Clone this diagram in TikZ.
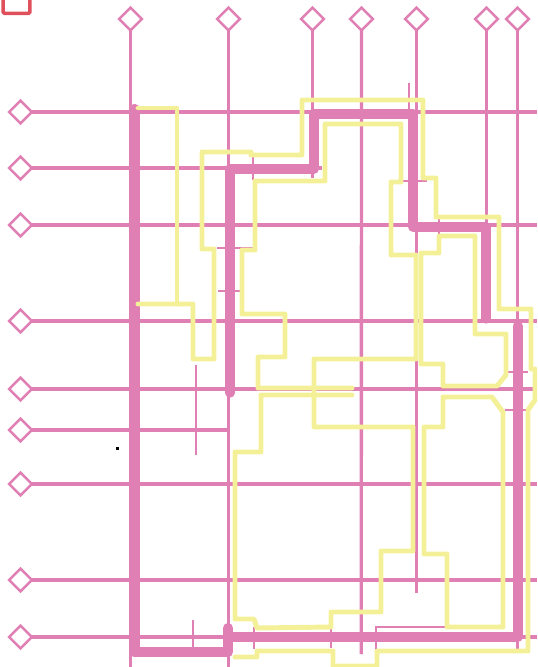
\documentclass[tikz,border=0pt]{standalone}
\usepackage{xcolor}
\usepackage{tikz}
\usetikzlibrary{shapes.geometric, positioning}
\definecolor{netpink}{RGB}{224, 127, 179}
\definecolor{netyellow}{RGB}{243, 240, 152}
\definecolor{boxred}{RGB}{224, 80, 92}
\tikzstyle{pin} = [diamond, aspect=1, minimum size=17pt, inner sep=0pt, outer sep=0pt, draw=netpink, fill=white, line width=1.8pt]
\tikzstyle{wire} = [line width=2.5pt, color=netpink]
\tikzstyle{stub} = [line width=2.1pt, color=netpink]
\tikzstyle{trunk} = [line width=7.5pt, color=netpink, line cap=round, line join=round]
\tikzstyle{route} = [line width=3.7pt, color=netyellow, line cap=round, line join=round]

\begin{document}
\begin{tikzpicture}[x=0.75pt, y=-0.75pt, on grid]
    \clip (0,0) rectangle (537,667);

    % Nodes
    \node (top1) [pin] at (130.5,19) {};
    \node (top2) [pin, right=73.5pt of top1] {};
    \node (top3) [pin, right=63pt of top2] {};
    \node (top4) [pin, right=36.75pt of top3] {};
    \node (top5) [pin, right=41.25pt of top4] {};
    \node (top6) [pin, right=52.5pt of top5] {};
    \node (top7) [pin, right=23.25pt of top6] {};
    \node (left1) [pin] at (20.5,112) {};
    \node (left2) [pin, below=42pt of left1] {};
    \node (left3) [pin, below=42.75pt of left2] {};
    \node (left4) [pin, below=72pt of left3] {};
    \node (left5) [pin, below=51pt of left4] {};
    \node (left6) [pin, below=30.75pt of left5] {};
    \node (left7) [pin, below=40.5pt of left6] {};
    \node (left8) [pin, below=72pt of left7] {};
    \node (left9) [pin, below=42.75pt of left8] {};
    \node (corner) [draw=boxred, line width=2.6pt, rounded corners=1pt, minimum width=20pt, minimum height=14pt, inner sep=0pt] at (16.5,4) {};
    \node (speck) [fill=black, minimum size=2.2pt, inner sep=0pt] at (117.5,448.5) {};

    % Free ends
    \coordinate (edge) at (537,667);
    \coordinate (end3) at (312.5,178);
    \coordinate (end4) at (361.25,654);
    \coordinate (end5) at (416.5,593);
    \coordinate (end6) at (486.5,321);
    \coordinate (end7) at (517.5,649);
    \coordinate (endA) at (322,168);
    \coordinate (endB) at (228,430);

    % Wires
    \draw [wire] (top1) -- (top1 |- edge);
    \draw [wire] (top2) -- (top2 |- edge);
    \draw [wire] (top3) -- (end3);
    \draw [wire] (top4) -- (end4);
    \draw [wire] (top5) -- (end5);
    \draw [wire] (top6) -- (end6);
    \draw [wire] (top7) -- (end7);
    \draw [wire] (left1) -- (left1 -| edge);
    \draw [wire] (left2) -- (endA);
    \draw [wire] (left3) -- (left3 -| edge);
    \draw [wire] (left4) -- (left4 -| edge);
    \draw [wire] (left5) -- (left5 -| edge);
    \draw [wire] (left6) -- (endB);
    \draw [wire] (left7) -- (left7 -| edge);
    \draw [wire] (left8) -- (left8 -| edge);
    \draw [wire] (left9) -- (left9 -| edge);

    % Stubs
    \draw [stub] (409,83) -- (409,112);
    \draw [stub] (402,181) -- (427,181);
    \draw [stub] (253,156) -- (253,180);
    \draw [stub] (217,248) -- (253,248);
    \draw [stub] (218,291) -- (240,291);
    \draw [stub] (196,365) -- (196,455);
    \draw [stub] (193,620) -- (193,648);
    \draw [stub] (254,627) -- (254,649);
    \draw [stub] (331,628) -- (331,648);
    \draw [stub] (376,652) -- (376,627) -- (445,627);
    \draw [stub] (508,372) -- (528,372);
    \draw [stub] (505,410) -- (526,410);
    \draw [stub] (439,216) -- (439,235);

    % Trunks
    \draw [trunk] (134.5,109) -- (134.5,652) -- (228,652) -- (228,628);
    \draw [trunk] (228,637) -- (517.5,637) -- (517.5,326);
    \draw [trunk, line width=7pt] (230,393) -- (230,169) -- (314,169) -- (314,114) -- (413,114) -- (413,227) -- (486,227) -- (486,319);

    % Routes
    \draw [route] (138,108) -- (177,108) -- (177,304);
    \draw [route] (138,304) -- (193,304) -- (193,359) -- (214,359) -- (214,249) -- (202,249) -- (202,152) -- (251,152) -- (251,155) -- (302,155) -- (302,100) -- (423,100) -- (423,178) -- (436,178) -- (436,217) -- (499,217) -- (499,309) -- (531,309) -- (531,369) -- (535,369) -- (535,400) -- (528,410) -- (528,651) -- (377,651) -- (377,666) -- (333,666) -- (333,651) -- (257,651) -- (257,657) -- (235,657);
    \draw [route] (352,388) -- (258,388) -- (258,357) -- (285,357) -- (285,314) -- (242,314) -- (242,250) -- (255,250) -- (255,181) -- (325,181) -- (325,124) -- (401,124) -- (401,182) -- (391,182) -- (391,255) -- (416,255) -- (416,359) -- (314,359) -- (314,427) -- (413,427) -- (413,551) -- (381,551) -- (381,612) -- (331,612) -- (331,627) -- (257,628) -- (254,619) -- (235,619) -- (235,452) -- (261,452) -- (261,395) -- (352,395);
    \draw [route] (439,236) -- (475,236) -- (475,334) -- (506,334) -- (506,375) -- (497,386) -- (443,386) -- (443,364) -- (421,364) -- (421,253) -- (439,253) -- cycle;
    \draw [route] (424,554) -- (424,427) -- (443,427) -- (443,397) -- (492,397) -- (503,412) -- (503,627) -- (447,627) -- (447,554) -- cycle;
\end{tikzpicture}
\end{document}
